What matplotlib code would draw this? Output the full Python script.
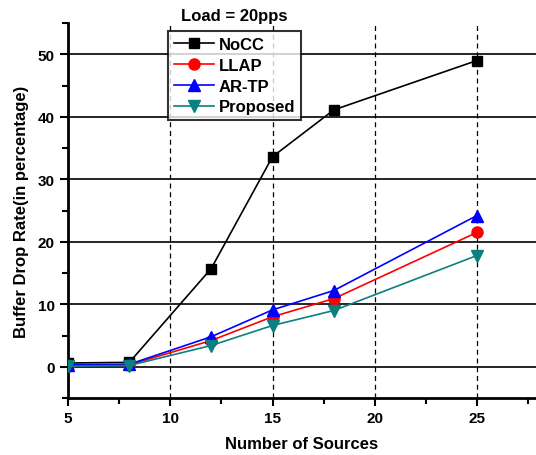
import matplotlib
matplotlib.use("Agg")
import matplotlib.pyplot as plt
from matplotlib.ticker import MultipleLocator

x = [5, 8, 12, 15, 18, 25]
nocc = [0.6, 0.7, 15.7, 33.6, 41.1, 49.0]
llap = [0.2, 0.3, 4.2, 8.0, 10.9, 21.5]
artp = [0.3, 0.4, 4.8, 9.1, 12.2, 24.2]
proposed = [0.1, 0.2, 3.4, 6.6, 9.0, 17.8]

plt.rcParams['font.family'] = ['Liberation Sans', 'DejaVu Sans']
plt.rcParams['font.weight'] = 'bold'

fig = plt.figure(figsize=(5.36, 4.56), dpi=100)
W, H = 536, 456
ax = fig.add_axes([68 / W, 1 - 399 / H, (536 - 68) / W, (399 - 24) / H])

ax.set_xlim(5, 5 + (536 - 68) / ((477 - 68) / 20))
ax.set_ylim(-5, 55)

for yv in [0, 10, 20, 30, 40, 50]:
    ax.axhline(yv, color='black', lw=1.2, zorder=1)
for xv in [10, 15, 20, 25]:
    ax.axvline(xv, color='black', lw=0.9, ls=(0, (4, 3)), zorder=1)

ax.plot(x, nocc, color='black', marker='s', ms=7, lw=1.2, label='NoCC', zorder=3)
ax.plot(x, llap, color='red', marker='o', ms=8, lw=1.2, label='LLAP', zorder=3)
ax.plot(x, artp, color='blue', marker='^', ms=9, lw=1.2, label='AR-TP', zorder=3)
ax.plot(x, proposed, color='#0a8080', marker='v', ms=9, lw=1.2, label='Proposed', zorder=3)

ax.spines['top'].set_visible(False)
ax.spines['right'].set_visible(False)
ax.spines['left'].set_linewidth(2)
ax.spines['bottom'].set_linewidth(2)

ax.xaxis.set_major_locator(MultipleLocator(5))
ax.xaxis.set_minor_locator(MultipleLocator(2.5))
ax.yaxis.set_major_locator(MultipleLocator(10))
ax.yaxis.set_minor_locator(MultipleLocator(5))
ax.set_yticks([0, 10, 20, 30, 40, 50])
ax.tick_params(which='major', direction='out', length=6, width=1.5, labelsize=11)
ax.tick_params(which='minor', direction='out', length=4, width=1.5)
for lab in ax.get_xticklabels() + ax.get_yticklabels():
    lab.set_fontweight('bold')

ax.set_xlabel('Number of Sources', fontsize=12, fontweight='bold', labelpad=8)
ax.set_ylabel('Buffer Drop Rate(in percentage)', fontsize=12, fontweight='bold', labelpad=6)
fig.text(234 / W, 1 - 17 / H, 'Load = 20pps', ha='center', va='center', fontsize=12, fontweight='bold')

leg = ax.legend(loc='upper left', bbox_to_anchor=((168 - 68) / (536 - 68), 1 - (32 - 24) / (399 - 24)),
                fontsize=12, frameon=True, fancybox=False, edgecolor='black', borderpad=0.35,
                labelspacing=0.35, handlelength=2.4, handletextpad=0.3, borderaxespad=0)
leg.get_frame().set_linewidth(1.5)
leg.set_zorder(5)
for t in leg.get_texts():
    t.set_fontweight('bold')

fig.savefig('out.png', dpi=100)
